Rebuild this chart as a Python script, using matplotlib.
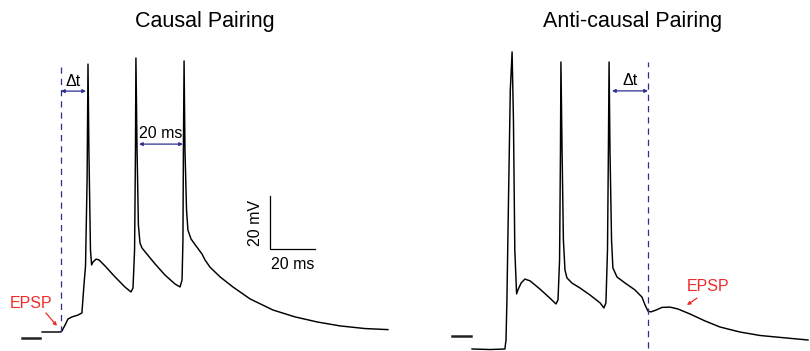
import matplotlib.pyplot as plt

plt.rcParams['font.family'] = ['Liberation Sans', 'DejaVu Sans']

# ---------------------------------------------------------------
# traces (time in ms, voltage in mV above rest)
# t = 0 is the dashed line (EPSP onset) in each panel

causal_t = [-8.4, -0.4, 0.4, 1.8, 3.1, 4.9, 7.6, 9.3, 10.2, 10.9, 11.6, 12.0, 12.4,
            13.1, 13.6, 14.2, 15.6, 16.9, 19.6, 24.0, 28.4, 31.1, 32.0, 32.7, 33.1,
            33.3, 33.8, 34.4, 35.1, 36.0, 38.2, 41.8, 46.2, 50.7, 52.9, 53.8, 54.2,
            54.4, 54.7, 55.1, 55.8, 56.4, 57.8, 60.0, 62.7, 64.0, 66.2, 70.7, 76.4,
            84.0, 94.2, 104.0, 113.8, 124.0, 135.1, 145.3]
causal_v = [0.0, 0.0, 0.4, 2.6, 4.9, 5.7, 6.4, 7.2, 17.7, 24.9, 57.4, 101.1, 68.7,
            30.9, 25.3, 26.4, 27.5, 27.2, 24.9, 20.8, 17.0, 15.1, 16.6, 30.9, 68.7,
            103.4, 68.7, 40.4, 33.6, 31.7, 29.4, 25.7, 21.5, 18.1, 17.0, 19.6, 34.7,
            68.7, 102.3, 68.7, 46.0, 38.5, 35.1, 32.5, 29.4, 27.2, 24.5, 20.8, 17.0,
            12.5, 8.3, 5.7, 3.8, 2.3, 1.3, 0.9]

anti_t = [-78.2, -70.2, -63.6, -63.1, -62.7, -62.0, -61.2, -60.4, -59.8, -59.2, -58.4,
          -57.8, -56.4, -54.7, -52.4, -48.0, -43.6, -40.9, -40.0, -39.3, -38.9, -38.7,
          -38.2, -37.6, -36.9, -36.0, -33.8, -30.2, -25.8, -21.3, -19.6, -18.7, -18.0,
          -17.6, -17.3, -16.9, -16.2, -15.6, -13.8, -10.2, -5.8, -2.7, -1.3, 0.0, 1.3,
          3.6, 6.2, 9.8, 13.3, 18.7, 25.3, 32.0, 40.9, 49.8, 60.9, 71.1]
anti_v = [0.0, -0.2, 0.0, 3.4, 18.5, 56.2, 97.7, 112.1, 86.4, 37.4, 20.8,
          22.3, 24.9, 26.4, 25.7, 22.6, 19.2, 17.0, 18.5, 33.6, 75.1, 108.3,
          75.1, 41.1, 29.8, 26.8, 24.9, 23.0, 20.4, 17.4, 15.5, 17.4, 37.4,
          75.1, 108.3, 75.1, 41.1, 30.6, 27.2, 24.9, 22.3, 19.6, 16.6, 14.3, 14.0,
          14.7, 15.7, 15.8, 15.1, 13.2, 10.6, 8.3, 6.4, 5.1, 4.2, 3.4]

# resting level markers
causal_rest_t = [-17.3, -9.3]
causal_rest_v = [-2.3, -2.3]
anti_rest_t = [-87.1, -78.7]
anti_rest_v = [4.9, 4.9]

# intervals
causal_dt = [0.0, 11.1]
causal_isi = [34.7, 54.2]
anti_dt = [-16.0, 0.0]

scale_ms = 20
scale_mv = 20

blue = '#2b2f8f'
red = '#ee2b2b'

#===============================================================================
fig = plt.figure(figsize=(8.1, 3.51), dpi=100)

ax1 = fig.add_axes([0, 0, 400 / 810, 1])
ax1.set_xlim(-27.11, 150.67)
ax1.set_ylim(-7.17, 125.28)
ax1.axis('off')

ax2 = fig.add_axes([400 / 810, 0, 410 / 810, 1])
ax2.set_xlim(-110.22, 72.0)
ax2.set_ylim(-0.755, 131.70)
ax2.axis('off')

# traces
ax1.plot(causal_t, causal_v, color='black', lw=1.05, solid_joinstyle='round')
ax2.plot(anti_t, anti_v, color='black', lw=1.05, solid_joinstyle='round')
ax1.plot(causal_rest_t, causal_rest_v, color='#222222', lw=1.8)
ax2.plot(anti_rest_t, anti_rest_v, color='#222222', lw=1.8)

# dashed EPSP onset lines
ax1.plot([0, 0], [0, 101.5], color=blue, lw=0.9, dashes=(5, 4))
ax2.plot([0, 0], [0.4, 108.3], color=blue, lw=0.9, dashes=(5, 4))

# interval arrows
arrow = dict(arrowstyle='<|-|>', mutation_scale=5, lw=0.9, color=blue,
             shrinkA=0, shrinkB=0)
ax1.annotate('', xy=(causal_dt[1], 90.9), xytext=(causal_dt[0], 90.9), arrowprops=arrow)
ax1.text(sum(causal_dt) / 2, 94.6, '\u0394t', ha='center', va='center', fontsize=11.5)
ax1.annotate('', xy=(causal_isi[1], 70.9), xytext=(causal_isi[0], 70.9), arrowprops=arrow)
ax1.text(sum(causal_isi) / 2, 74.8, '20 ms', ha='center', va='center', fontsize=11.5)
ax2.annotate('', xy=(anti_dt[1], 97.4), xytext=(anti_dt[0], 97.4), arrowprops=arrow)
ax2.text(sum(anti_dt) / 2, 101.2, '\u0394t', ha='center', va='center', fontsize=11.5)

# EPSP labels
red_arrow = dict(arrowstyle='-|>', mutation_scale=5, lw=0.9, color=red,
                 shrinkA=0, shrinkB=0)
ax1.annotate('', xy=(-1.8, 2.3), xytext=(-6.7, 7.2), arrowprops=red_arrow)
ax1.text(-13.3, 10.9, 'EPSP', color=red, ha='center', va='center', fontsize=11.5)
ax2.annotate('', xy=(17.3, 16.6), xytext=(21.8, 19.2), arrowprops=red_arrow)
ax2.text(26.7, 23.4, 'EPSP', color=red, ha='center', va='center', fontsize=11.5)

# scale bar
sb_t, sb_v = 92.9, 31.3
ax1.plot([sb_t, sb_t, sb_t + scale_ms], [sb_v + scale_mv, sb_v, sb_v],
         color='black', lw=0.9)
ax1.text(sb_t - 6.5, sb_v + scale_mv / 2, '%d mV' % scale_mv, rotation=90,
         ha='center', va='center', fontsize=11.5)
ax1.text(sb_t + scale_ms / 2, sb_v - 6.0, '%d ms' % scale_ms,
         ha='center', va='center', fontsize=11.5)

# titles
fig.text(205 / 810, 1 - 21 / 351, 'Causal Pairing', ha='center', va='center', fontsize=15.5)
fig.text(633 / 810, 1 - 21 / 351, 'Anti-causal Pairing', ha='center', va='center', fontsize=15.5)

fig.savefig('out.png', dpi=100)
